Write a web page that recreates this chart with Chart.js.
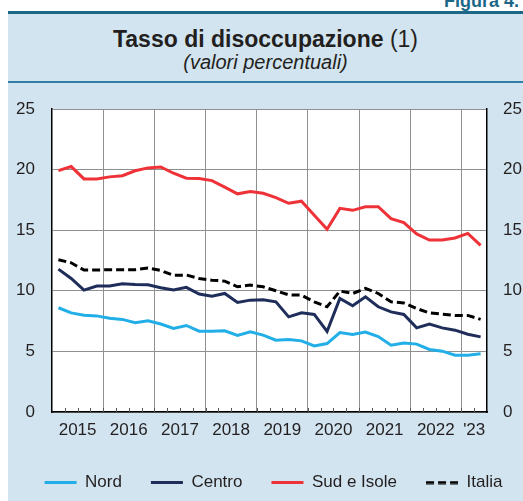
<!DOCTYPE html>
<html>
<head>
<meta charset="utf-8">
<script src="https://cdn.jsdelivr.net/npm/chart.js@4.4.1/dist/chart.umd.min.js"></script>
<style>
  html, body { margin:0; padding:0; background:#fff; }
  body { width:523px; height:501px; position:relative; overflow:hidden; font-family:'Liberation Sans', Arial, sans-serif; }
  #panel { position:absolute; left:8px; top:13px; width:515px; height:488px; background:#d2e4ef; }
  #topline { position:absolute; left:8px; top:11px; width:515px; height:3px; background:#1c6788; }
  #fig { position:absolute; right:4px; top:-8px; font-size:18px; line-height:18px; font-weight:bold; color:#1c6788; white-space:nowrap; }
  #title { position:absolute; left:8px; width:515px; top:28px; text-align:center; font-size:23px; line-height:23px; color:#231f20; }
  #title b { font-weight:bold; }
  #subtitle { position:absolute; left:8px; width:515px; top:52px; text-align:center; font-size:20px; line-height:20px; font-style:italic; color:#231f20; }
  #sep { position:absolute; left:8px; top:81px; width:515px; height:2px; background:#2f7fa8; }
  #c { position:absolute; left:0; top:0; }
</style>
</head>
<body>
<div id="panel"></div>
<div id="topline"></div>
<div id="fig">Figura 4.</div>
<div id="title"><b>Tasso di disoccupazione</b> (1)</div>
<div id="subtitle">(valori percentuali)</div>
<div id="sep"></div>
<canvas id="c" width="523" height="501"></canvas>
<script>
const quarters = ['2015T1','2015T2','2015T3','2015T4','2016T1','2016T2','2016T3','2016T4',
  '2017T1','2017T2','2017T3','2017T4','2018T1','2018T2','2018T3','2018T4',
  '2019T1','2019T2','2019T3','2019T4','2020T1','2020T2','2020T3','2020T4',
  '2021T1','2021T2','2021T3','2021T4','2022T1','2022T2','2022T3','2022T4',
  '2023T1','2023T2'];
const years = ['2015','2016','2017','2018','2019','2020','2021','2022',"'23"];
const yTicks = [0, 5, 10, 15, 20, 25];

const nord   = [8.6, 8.18, 7.99, 7.93, 7.74, 7.64, 7.36, 7.52, 7.26, 6.89, 7.14, 6.67, 6.67, 6.7, 6.31, 6.61, 6.34,
                5.93, 5.98, 5.87, 5.45, 5.65, 6.56, 6.4, 6.59, 6.22, 5.51, 5.7, 5.6, 5.16, 5.02, 4.69, 4.69, 4.8];
const centro = [11.79, 11.02, 10.06, 10.39, 10.39, 10.58, 10.52, 10.5, 10.25, 10.06, 10.28, 9.73, 9.56, 9.78, 9.04, 9.23, 9.26,
                9.09, 7.85, 8.18, 8.05, 6.64, 9.37, 8.76, 9.5, 8.68, 8.26, 8.05, 6.94, 7.25, 6.94, 6.75, 6.42, 6.2];
const sud    = [19.92, 20.25, 19.23, 19.23, 19.4, 19.5, 19.9, 20.14, 20.22, 19.7, 19.29, 19.26, 19.09, 18.55, 18.0, 18.2, 18.05,
                17.69, 17.22, 17.39, 16.23, 15.07, 16.8, 16.64, 16.94, 16.94, 15.95, 15.62, 14.69, 14.19, 14.19, 14.36, 14.74, 13.75];
const italia = [12.56, 12.31, 11.71, 11.71, 11.74, 11.74, 11.74, 11.88, 11.68, 11.27, 11.3, 11.02, 10.88, 10.8, 10.33, 10.47, 10.33,
                10.0, 9.67, 9.64, 9.09, 8.68, 9.98, 9.78, 10.2, 9.78, 9.09, 9.0, 8.54, 8.18, 8.07, 7.97, 7.97, 7.64];

const nQ = quarters.length;
const yearPos = years.map((y, k) => { const s = 4 * k, e = Math.min(4 * k + 4, nQ); return (s + e) / 2; });
const pts = arr => arr.map((v, i) => ({ x: i + 0.5, y: v }));

Chart.defaults.font.family = "'Liberation Sans', Arial, sans-serif";
Chart.defaults.font.size = 17;
Chart.defaults.color = '#231f20';

const GRID = '#8f8f8f';
const SYM_W = 32;

// legend symbol for dashed series (Chart.js point-style legends ignore borderDash)
function dashedSymbol(color, width, dash) {
  const cv = document.createElement('canvas');
  cv.width = SYM_W; cv.height = 4;
  const g = cv.getContext('2d');
  g.strokeStyle = color; g.lineWidth = width; g.setLineDash(dash);
  g.beginPath(); g.moveTo(0, 2); g.lineTo(SYM_W, 2); g.stroke();
  return cv;
}

const plotBg = {
  id: 'plotBg',
  beforeDraw(chart) {
    const { ctx, chartArea: a } = chart;
    ctx.save();
    ctx.fillStyle = '#ffffff';
    ctx.fillRect(a.left, a.top, a.right - a.left, a.bottom - a.top);
    ctx.restore();
  }
};
const quarterTicks = {
  id: 'quarterTicks',
  afterDatasetsDraw(chart) {
    const { ctx, chartArea: a, scales: { x } } = chart;
    ctx.save();
    ctx.strokeStyle = '#555';
    ctx.lineWidth = 1;
    for (let i = 1; i < nQ; i++) {
      const px = Math.round(x.getPixelForValue(i)) + 0.5;
      ctx.beginPath();
      ctx.moveTo(px, a.bottom);
      ctx.lineTo(px, a.bottom - 4);
      ctx.stroke();
    }
    ctx.restore();
  }
};

new Chart(document.getElementById('c'), {
  type: 'line',
  data: {
    datasets: [
      { label: 'Nord', data: pts(nord), borderColor: '#22aee6', backgroundColor: '#22aee6', borderWidth: 3, pointRadius: 0 },
      { label: 'Centro', data: pts(centro), borderColor: '#1f2d5a', backgroundColor: '#1f2d5a', borderWidth: 3, pointRadius: 0 },
      { label: 'Sud e Isole', data: pts(sud), borderColor: '#ee3237', backgroundColor: '#ee3237', borderWidth: 3, pointRadius: 0 },
      { label: 'Italia', data: pts(italia), borderColor: '#000000', backgroundColor: '#000000', borderWidth: 3, borderDash: [8, 4], pointRadius: 0 }
    ]
  },
  options: {
    responsive: false,
    animation: false,
    devicePixelRatio: 1,
    layout: { padding: { left: 10, right: -14, top: 109, bottom: 0 } },
    plugins: {
      legend: {
        position: 'bottom',
        labels: {
          usePointStyle: true,
          pointStyle: 'line',
          pointStyleWidth: SYM_W,
          padding: 29,
          font: { size: 17 },
          color: '#231f20',
          generateLabels(chart) {
            const items = Chart.defaults.plugins.legend.labels.generateLabels(chart);
            items.forEach(it => {
              const ds = chart.data.datasets[it.datasetIndex];
              if (ds.borderDash && ds.borderDash.length) {
                it.pointStyle = dashedSymbol(ds.borderColor, ds.borderWidth, ds.borderDash);
              }
            });
            return items;
          }
        }
      },
      tooltip: { enabled: false },
      title: { display: false }
    },
    scales: {
      x: {
        type: 'linear',
        min: 0,
        max: nQ,
        afterFit: s => { s.height = 33; },
        ticks: {
          stepSize: 1,
          autoSkip: false,
          maxRotation: 0,
          padding: 8,
          callback: v => { const k = yearPos.indexOf(v); return k >= 0 ? years[k] : ''; }
        },
        grid: {
          drawTicks: false,
          lineWidth: 1,
          color: c => (c.tick && c.tick.value % 4 === 0 && c.tick.value > 0 && c.tick.value < nQ) ? GRID : 'rgba(0,0,0,0)'
        },
        border: { display: true, color: '#000', width: 1.5 }
      },
      y: {
        position: 'left',
        min: 0,
        max: 25,
        afterFit: s => { s.width = 42; },
        afterBuildTicks: s => { s.ticks = yTicks.map(v => ({ value: v })); },
        ticks: { padding: 17 },
        grid: { color: GRID, lineWidth: 1, drawTicks: false },
        border: { display: true, color: '#000', width: 1.5 }
      },
      y2: {
        position: 'right',
        min: 0,
        max: 25,
        afterFit: s => { s.width = 50; },
        afterBuildTicks: s => { s.ticks = yTicks.map(v => ({ value: v })); },
        ticks: { padding: 16 },
        grid: { drawOnChartArea: false, drawTicks: false },
        border: { display: true, color: '#000', width: 1.5 }
      }
    }
  },
  plugins: [plotBg, quarterTicks]
});
</script>
</body>
</html>
